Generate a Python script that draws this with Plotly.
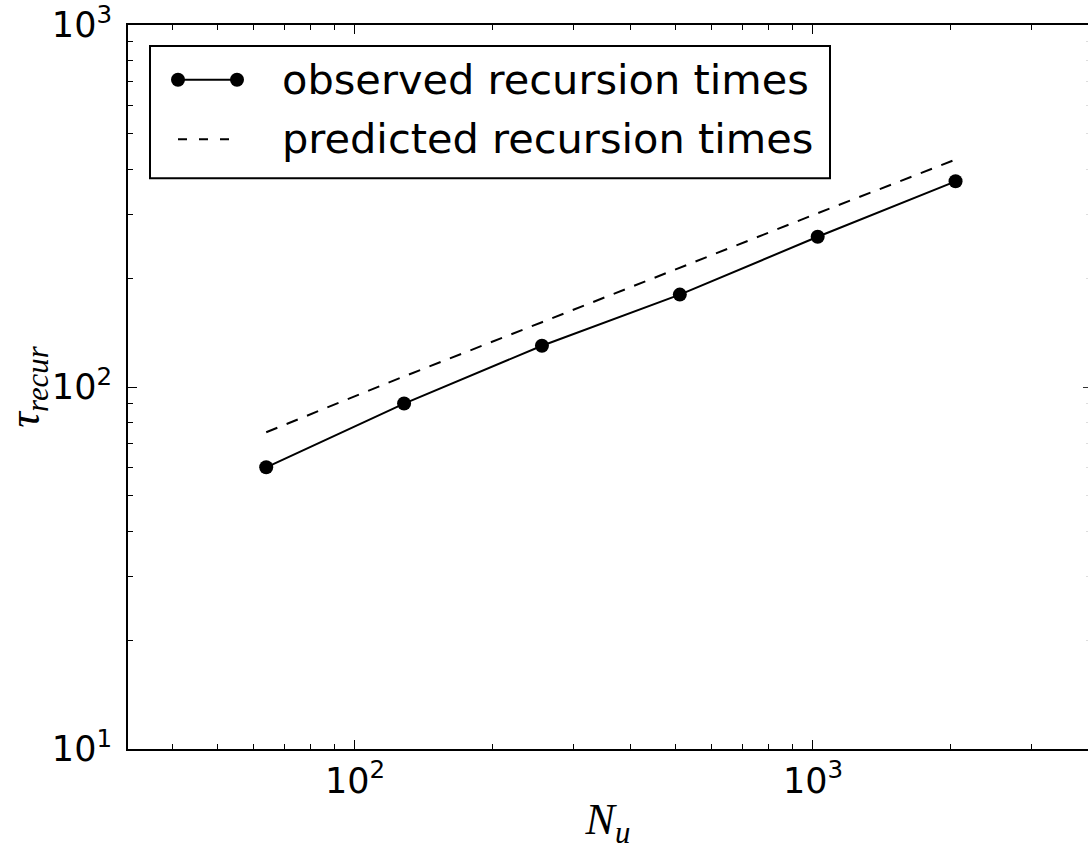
import numpy as np
import plotly.graph_objects as go

# ---------------- data ----------------
N_u = [64, 128, 256, 512, 1024, 2048]
observed = [60, 90, 130, 180, 260, 370]
predicted = [75, 107, 151, 214, 302, 425]

x_tick_vals = [100, 1000]
x_tick_text = ["10<sup>2</sup>", "10<sup>3</sup>"]
y_tick_vals = [10, 100, 1000]
y_tick_text = ["10<sup>1</sup>", "10<sup>2</sup>", "10<sup>3</sup>"]
x_minor = [40, 50, 60, 70, 80, 90, 200, 300, 400, 500, 600, 700, 800, 900, 2000, 3000]
y_minor = [20, 30, 40, 50, 60, 70, 80, 90, 200, 300, 400, 500, 600, 700, 800, 900]

legend_labels = ["observed recursion times", "predicted recursion times"]
x_title = "<i>N</i><sub><i>u</i></sub>"
y_title = "<i>τ</i><sub><i>recur</i></sub>"

# ---------------- layout geometry ----------------
W, H = 1088, 857
ML, MR, MT, MB = 128, 0, 21, 108
PW, PH = W - ML - MR, H - MT - MB
x_range = [1.5044, 3.6005]
y_range = [0.99995, 3.00005]


def px(x):
    return (x - ML) / PW


def py(y):
    return (H - MB - y) / PH


TICKFONT = dict(family="DejaVu Sans", size=35, color="black")
MATHFONT = dict(family="Liberation Serif", size=44, color="black")

fig = go.Figure()
fig.add_trace(go.Scatter(
    x=N_u, y=predicted, mode="lines", name=legend_labels[1],
    line=dict(color="black", width=2, dash="12px,10px"), showlegend=False,
))
fig.add_trace(go.Scatter(
    x=N_u, y=observed, mode="lines+markers", name=legend_labels[0],
    line=dict(color="black", width=2), marker=dict(size=14, color="black"),
    showlegend=False,
))
# invisible trace to instantiate the right-hand tick axis
fig.add_trace(go.Scatter(
    x=N_u, y=observed, mode="none", yaxis="y2", showlegend=False, hoverinfo="skip",
))

axis_common = dict(
    type="log", showgrid=False, zeroline=False,
    showline=True, linecolor="black", linewidth=2,
    ticks="inside", ticklen=9, tickwidth=1, tickcolor="black",
    tickfont=TICKFONT, ticklabeloverflow="allow",
)

fig.update_layout(
    width=W, height=H,
    margin=dict(l=ML, r=MR, t=MT, b=MB, pad=0),
    plot_bgcolor="white", paper_bgcolor="white",
    showlegend=False,
    xaxis=dict(
        **axis_common, range=x_range, mirror="ticks",
        tickmode="array", tickvals=x_tick_vals, ticktext=x_tick_text,
        minor=dict(tickmode="array", tickvals=x_minor, ticks="inside", ticklen=5,
                   tickwidth=1, tickcolor="black", showgrid=False),
        title=dict(text=x_title, font=MATHFONT, standoff=3),
    ),
    yaxis=dict(
        **axis_common, range=y_range, mirror=False,
        tickmode="array", tickvals=y_tick_vals, ticktext=y_tick_text,
        ticklabelstandoff=7,
        minor=dict(tickmode="array", tickvals=y_minor, ticks="inside", ticklen=5,
                   tickwidth=1, tickcolor="black", showgrid=False),
        title=dict(text=y_title, font=MATHFONT, standoff=16),
    ),
    yaxis2=dict(
        type="log", range=y_range, overlaying="y", side="right", anchor="x",
        showgrid=False, zeroline=False, showline=False, showticklabels=False,
        ticks="inside", ticklen=5, tickwidth=1, tickcolor="#333333",
        tickmode="array", tickvals=y_tick_vals,
        minor=dict(tickmode="array", tickvals=y_minor, ticks="inside", ticklen=2,
                   tickwidth=1, tickcolor="#dddddd", showgrid=False),
    ),
)

# ---------------- manual legend (matplotlib style) ----------------
box = dict(x0=150, x1=830, y0=42, y1=175)
shapes = [
    dict(type="rect", xref="paper", yref="paper",
         x0=px(box["x0"]), x1=px(box["x1"]), y0=py(box["y1"]), y1=py(box["y0"]),
         line=dict(color="black", width=2), fillcolor="white", layer="above"),
    dict(type="line", xref="paper", yref="paper",
         x0=px(178), x1=px(237), y0=py(76), y1=py(76),
         line=dict(color="black", width=2), layer="above"),
    dict(type="line", xref="paper", yref="paper",
         x0=px(178), x1=px(237), y0=py(136), y1=py(136),
         line=dict(color="black", width=2, dash="9px,12px"), layer="above"),
]
for cx in (178, 237):
    shapes.append(dict(
        type="circle", xref="paper", yref="paper", xsizemode="pixel", ysizemode="pixel",
        xanchor=px(cx), yanchor=py(76), x0=-7, x1=7, y0=-7, y1=7,
        line=dict(color="black", width=0), fillcolor="black", layer="above"))
fig.update_layout(shapes=shapes)

for label, cy in zip(legend_labels, (76, 135)):
    fig.add_annotation(
        xref="paper", yref="paper", x=px(280), y=py(cy), xanchor="left", yanchor="middle",
        text=label, showarrow=False, font=dict(family="DejaVu Sans", size=41.5, color="black"),
    )

fig.write_html("out.html")
